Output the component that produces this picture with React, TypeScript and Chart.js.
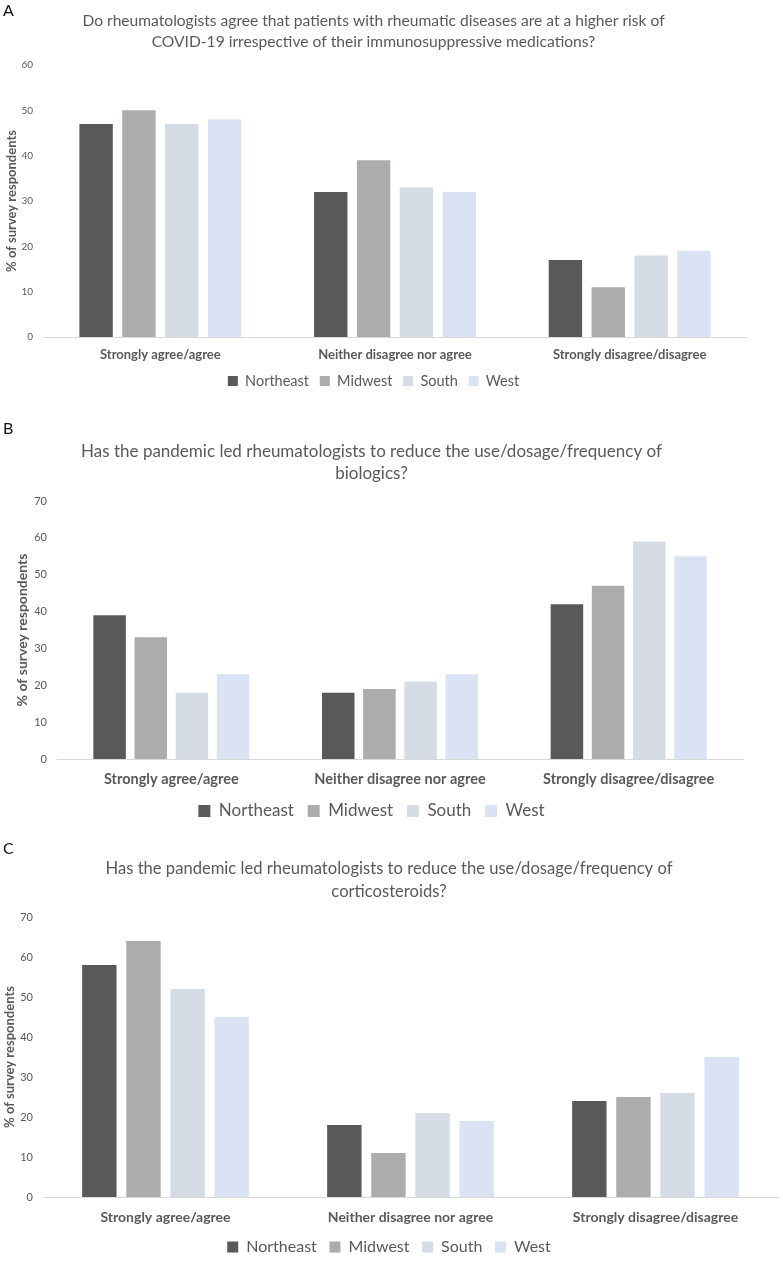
import React, { useEffect, useRef } from "react";
import { Chart, registerables } from "chart.js";

Chart.register(...registerables);

const FONT = "Lato, 'Noto Sans', sans-serif";
const TEXT = "#595959";

const categories = ["Strongly agree/agree", "Neither disagree nor agree", "Strongly disagree/disagree"];
const regions = ["Northeast", "Midwest", "South", "West"];
const regionColors = ["#595959", "#AEABAB", "#D6DCE5", "#DAE3F3"];

const titleA = [
  "Do rheumatologists agree that patients with rheumatic diseases are at a higher risk of",
  "COVID-19 irrespective of their immunosuppressive medications?",
];
const titleB = ["Has the pandemic led rheumatologists to reduce the use/dosage/frequency of", "biologics?"];
const titleC = ["Has the pandemic led rheumatologists to reduce the use/dosage/frequency of", "corticosteroids?"];
const yAxisTitle = "% of survey respondents";

const northeastA = [47, 32, 17];
const midwestA = [50, 39, 11];
const southA = [47, 33, 18];
const westA = [48, 32, 19];

const northeastB = [39, 18, 42];
const midwestB = [33, 19, 47];
const southB = [18, 21, 59];
const westB = [23, 23, 55];

const northeastC = [58, 18, 24];
const midwestC = [64, 11, 25];
const southC = [52, 21, 26];
const westC = [45, 19, 35];

const yMaxA = 60;
const yMaxB = 70;
const yMaxC = 70;
const yStep = 10;

type Spec = {
  top: number;
  height: number;
  letter: string;
  letterTop: number;
  title: string[];
  series: number[][];
  yMax: number;
  titleSize: number;
  titleLH: number;
  titlePadTop: number;
  titlePadBottom: number;
  tickSize: number;
  yTitleSize: number;
  yTitlePad: number;
  yWidth: number;
  xSize: number;
  xPad: number;
  xHeight: number;
  legendSize: number;
  legendPad: number;
  legendBox: number;
  legendMaxH?: number;
  padRight: number;
  padBottom: number;
  catPct: number;
  barPct: number;
};

function Panel({ spec }: { spec: Spec }) {
  const ref = useRef<HTMLCanvasElement | null>(null);
  useEffect(() => {
    if (!ref.current) return;
    const chart = new Chart(ref.current, {
      type: "bar",
      data: {
        labels: categories,
        datasets: regions.map((r, i) => ({
          label: r,
          data: spec.series[i],
          backgroundColor: regionColors[i],
          borderWidth: 0,
          categoryPercentage: spec.catPct,
          barPercentage: spec.barPct,
        })),
      },
      options: {
        animation: false,
        responsive: false,
        devicePixelRatio: 1,
        layout: { padding: { left: 0, right: spec.padRight, top: 0, bottom: spec.padBottom } },
        plugins: {
          tooltip: { enabled: false },
          title: {
            display: true,
            text: spec.title,
            color: TEXT,
            font: { family: FONT, size: spec.titleSize, weight: "normal", lineHeight: spec.titleLH },
            padding: { top: spec.titlePadTop, bottom: spec.titlePadBottom },
          },
          legend: {
            display: true,
            position: "bottom",
            maxHeight: spec.legendMaxH,
            labels: {
              color: TEXT,
              boxWidth: spec.legendBox,
              boxHeight: spec.legendBox,
              padding: spec.legendPad,
              font: { family: FONT, size: spec.legendSize },
            },
          },
        },
        scales: {
          x: {
            grid: { display: false, drawTicks: false },
            border: { display: true, color: "#D9D9D9", width: 1 },
            ticks: {
              color: TEXT,
              padding: spec.xPad,
              maxRotation: 0,
              font: { family: FONT, size: spec.xSize, weight: "bold", lineHeight: 1.2 },
            },
            afterFit: (s: any) => {
              s.height = spec.xHeight;
            },
          },
          y: {
            min: 0,
            max: spec.yMax,
            grid: { display: false, drawTicks: false },
            border: { display: false },
            ticks: {
              stepSize: yStep,
              color: TEXT,
              padding: 10,
              font: { family: FONT, size: spec.tickSize },
            },
            title: {
              display: true,
              text: yAxisTitle,
              color: TEXT,
              padding: { top: spec.yTitlePad, bottom: 0 },
              font: { family: FONT, size: spec.yTitleSize, weight: "bold", lineHeight: 1.2 },
            },
            afterFit: (s: any) => {
              s.width = spec.yWidth;
            },
          },
        },
      },
    });
    return () => chart.destroy();
  }, [spec]);
  return (
    <div style={{ position: "absolute", left: 0, top: spec.top, width: 783, height: spec.height }}>
      <canvas ref={ref} width={783} height={spec.height} style={{ display: "block" }} />
      <div
        style={{
          position: "absolute",
          left: 3,
          top: spec.letterTop,
          fontFamily: FONT,
          fontSize: 16,
          lineHeight: "16px",
          color: "#111",
        }}
      >
        {spec.letter}
      </div>
    </div>
  );
}

const specA: Spec = {
  top: 0,
  height: 400,
  letter: "A",
  letterTop: 2,
  title: titleA,
  series: [northeastA, midwestA, southA, westA],
  yMax: yMaxA,
  titleSize: 15.6,
  titleLH: 21 / 15.6,
  titlePadTop: 10.5,
  titlePadBottom: 12.5,
  tickSize: 10,
  yTitleSize: 13,
  yTitlePad: 3.7,
  yWidth: 43,
  xSize: 13,
  xPad: 10.2,
  xHeight: 26,
  legendSize: 14.5,
  legendPad: 10.75,
  legendBox: 10,
  padRight: 36,
  padBottom: 1.75,
  catPct: 0.73,
  barPct: 0.78,
};

const specB: Spec = {
  top: 420,
  height: 420,
  letter: "B",
  letterTop: 0,
  title: titleB,
  series: [northeastB, midwestB, southB, westB],
  yMax: yMaxB,
  titleSize: 17,
  titleLH: 22 / 17,
  titlePadTop: 21,
  titlePadBottom: 16,
  tickSize: 11,
  yTitleSize: 14,
  yTitlePad: 13.6,
  yWidth: 57,
  xSize: 14.5,
  xPad: 11.3,
  xHeight: 29.7,
  legendSize: 17,
  legendPad: 13.8,
  legendBox: 12,
  padRight: 40,
  padBottom: 10.5,
  catPct: 0.72,
  barPct: 0.79,
};

const specC: Spec = {
  top: 840,
  height: 421,
  letter: "C",
  letterTop: 0,
  title: titleC,
  series: [northeastC, midwestC, southC, westC],
  yMax: yMaxC,
  titleSize: 16.6,
  titleLH: 23 / 16.6,
  titlePadTop: 17.5,
  titlePadBottom: 13.5,
  tickSize: 11,
  yTitleSize: 13,
  yTitlePad: 2.2,
  yWidth: 43,
  xSize: 14,
  xPad: 11.6,
  xHeight: 29.4,
  legendSize: 16,
  legendPad: 12.6,
  legendBox: 11,
  legendMaxH: 34.6,
  padRight: 5,
  padBottom: 0,
  catPct: 0.72,
  barPct: 0.78,
};

export default function App() {
  return (
    <div style={{ position: "absolute", left: 0, top: 0, width: 783, height: 1261, overflow: "hidden", background: "#fff" }}>
      <Panel spec={specA} />
      <Panel spec={specB} />
      <Panel spec={specC} />
    </div>
  );
}
